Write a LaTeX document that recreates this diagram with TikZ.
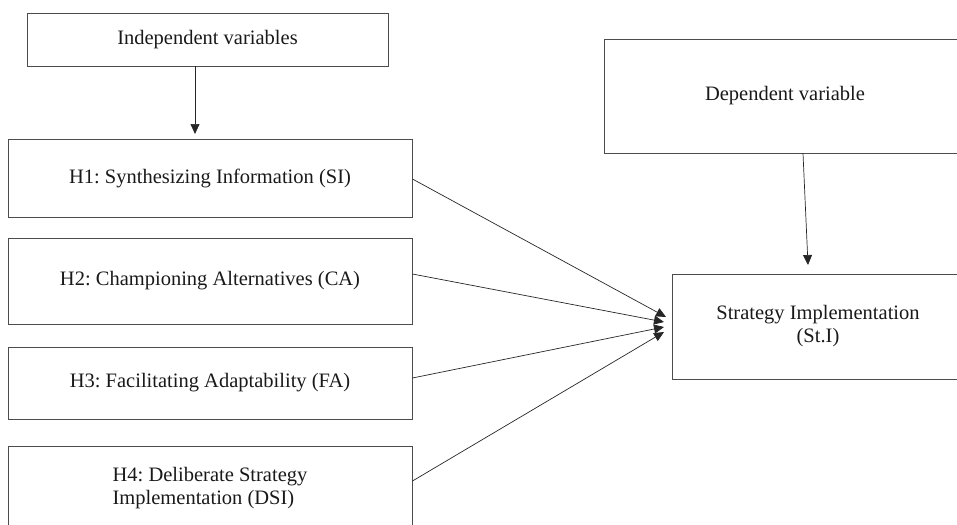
\documentclass[tikz,border=0pt]{standalone}
\usepackage{fontspec}
\setmainfont{Liberation Serif}
\usetikzlibrary{arrows.meta,calc}
\frenchspacing
\tikzset{
  box/.style={draw=black!70, line width=0.9pt, rectangle, inner sep=0pt, font=\fontsize{20.5}{23}\selectfont, text=black!90},
  conn/.style={draw=black!85, line width=0.7pt, -{Triangle[length=10pt,width=9pt]}},
}
\begin{document}
\begin{tikzpicture}[x=1pt,y=-1pt]
\useasboundingbox (0,0) rectangle (957,524);
\clip (0,0) rectangle (957,524);
\node[box, minimum width=361, minimum height=53] (ind) at (207.5,39.5) {Independent variables};
\node[box, minimum width=404, minimum height=78] (h1) at (210,178) {H1: Synthesizing Information (SI)};
\node[box, minimum width=404, minimum height=86] (h2) at (210,281) {H2: Championing Alternatives (CA)};
\node[box, minimum width=404, minimum height=72] (h3) at (210,383) {H3: Facilitating Adaptability (FA)};
\node[box, minimum width=404, minimum height=84, align=left] (h4) at (210,488) {H4: Deliberate Strategy\\Implementation (DSI)};
\node[box, minimum width=362, minimum height=114] (dep) at (785,96) {Dependent variable};
\node[box, minimum width=292, minimum height=105, align=center] (st) at (818,326.5) {Strategy Implementation\\(St.I)};
\coordinate (tind) at (195,134);
\coordinate (tdep) at (808,265);
\coordinate (t1) at (666,317);
\coordinate (t2) at (664,322);
\coordinate (t3) at (664,327);
\coordinate (t4) at (664,332);
\draw[conn] ($(ind.south)+(-12.5,0)$) -- (tind);
\draw[conn] ($(dep.south)+(18,0)$) -- (tdep);
\draw[conn] ($(h1.east)+(0,1)$) -- (t1);
\draw[conn] ($(h2.east)+(0,-7)$) -- (t2);
\draw[conn] ($(h3.east)+(0,-5)$) -- (t3);
\draw[conn] ($(h4.east)+(0,-7)$) -- (t4);
\end{tikzpicture}
\end{document}
